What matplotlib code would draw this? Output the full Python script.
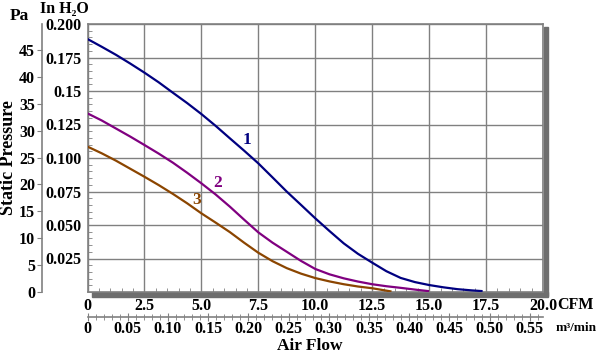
import matplotlib
matplotlib.use("Agg")
import matplotlib.pyplot as plt
from matplotlib.patches import Rectangle
from matplotlib.ticker import MultipleLocator

plt.rcParams['font.family'] = ['Liberation Serif', 'DejaVu Serif']
plt.rcParams['font.weight'] = 'bold'

# fan curves (CFM vs inch H2O)
cfm_1 = [0, 0.625, 1.25, 1.875, 2.5, 3.125, 3.75, 4.375, 5, 5.625, 6.25, 6.875, 7.5,
         8.125, 8.75, 9.375, 10, 10.625, 11.25, 11.875, 12.5, 13.125, 13.75, 14.375,
         15, 15.625, 16.25, 16.875, 17.3]
inh2o_1 = [0.1888, 0.183, 0.177, 0.1705, 0.1637, 0.1565, 0.1487, 0.141, 0.1328, 0.124,
           0.1147, 0.1055, 0.096, 0.0855, 0.0749, 0.065, 0.055, 0.0455, 0.0363, 0.0285,
           0.0219, 0.0155, 0.0105, 0.0074, 0.0052, 0.0035, 0.0021, 0.0012, 0.0007]
cfm_2 = [0, 0.625, 1.25, 1.875, 2.5, 3.125, 3.75, 4.375, 5, 5.625, 6.25, 6.875, 7.5,
         8.125, 8.75, 9.375, 10, 10.625, 11.25, 11.875, 12.5, 13.125, 13.75, 14.375, 14.95]
inh2o_2 = [0.1333, 0.128, 0.122, 0.116, 0.1097, 0.1033, 0.0965, 0.089, 0.0811, 0.0728,
           0.0637, 0.054, 0.0445, 0.0368, 0.030, 0.0232, 0.0172, 0.0132, 0.0102, 0.0078,
           0.0058, 0.0043, 0.0031, 0.0018, 0.0007]
cfm_3 = [0, 0.625, 1.25, 1.875, 2.5, 3.125, 3.75, 4.375, 5, 5.625, 6.25, 6.875, 7.5,
         8.125, 8.75, 9.375, 10, 10.625, 11.25, 11.875, 12.5, 13.3]
inh2o_3 = [0.1085, 0.1035, 0.098, 0.092, 0.086, 0.0798, 0.0732, 0.0662, 0.0587, 0.0518,
           0.0447, 0.0368, 0.0293, 0.023, 0.0178, 0.0137, 0.0104, 0.0079, 0.0058, 0.0041,
           0.0028, 0.0005]
curve_names = ['1', '2', '3']
curve_colors = ['#000080', '#800080', '#8b4500']
label_pos = [(7.0, 0.1134), (5.72, 0.0813), (4.8, 0.0687)]

x_ticks = [0, 2.5, 5, 7.5, 10, 12.5, 15, 17.5, 20]
x_labels = ['0', '2.5', '5.0', '7.5', '10.0', '12.5', '15.0', '17.5', '20.0']
y_ticks = [0.025, 0.05, 0.075, 0.1, 0.125, 0.15, 0.175, 0.2]
y_labels = ['0.025', '0.050', '0.075', '0.100', '0.125', '0.15', '0.175', '0.200']
pa_ticks = [0, 5, 10, 15, 20, 25, 30, 35, 40, 45]
m3_ticks = [0, 0.05, 0.10, 0.15, 0.20, 0.25, 0.30, 0.35, 0.40, 0.45, 0.50, 0.55]
m3_labels = ['0', '0.05', '0.10', '0.15', '0.20', '0.25', '0.30', '0.35', '0.40',
             '0.45', '0.50', '0.55']

W, H = 600, 354
grey = '#808080'
fig = plt.figure(figsize=(6, 3.54), dpi=100)

def fx(px):
    return px / W

def fy(py):
    return (H - py) / H

left, right, top, bottom = 87.5, 543, 24, 292
ax = fig.add_axes([fx(left), fy(bottom), fx(right - left), (bottom - top) / H])

# shadow
fig.add_artist(Rectangle((fx(543.5), fy(296)), fx(4.5), (296 - 27) / H,
                         transform=fig.transFigure, color='#6e6e6e', zorder=0))
fig.add_artist(Rectangle((fx(92), fy(296.5)), fx(456), 4.5 / H,
                         transform=fig.transFigure, color='#6e6e6e', zorder=0))

for xs, ys, c in zip([cfm_1, cfm_2, cfm_3], [inh2o_1, inh2o_2, inh2o_3], curve_colors):
    ax.plot(xs, ys, color=c, lw=1.6, zorder=3)
for name, c, (lx, ly) in zip(curve_names, curve_colors, label_pos):
    ax.text(lx, ly, name, color=c, fontsize=12.5, ha='center', va='center')

ax.set_xlim(0, 20)
ax.set_ylim(0, 0.2)
ax.set_xticks(x_ticks)
ax.set_xticklabels(x_labels, fontsize=11.5)
ax.set_yticks(y_ticks)
ax.set_yticklabels(y_labels, fontsize=11.5)
ax.xaxis.set_minor_locator(MultipleLocator(0.5))
ax.yaxis.set_minor_locator(MultipleLocator(0.005))
ax.tick_params(which='major', length=0, pad=4)
ax.tick_params(which='minor', direction='in', length=3, color=grey)
ax.tick_params(axis='y', which='minor', right=False)
ax.tick_params(axis='x', which='minor', top=False)
ax.grid(True, which='major', color=grey, lw=1)
for s in ax.spines.values():
    s.set_color(grey)
    s.set_linewidth(1.2)
ax.set_facecolor('white')

# Pa axis
pa = fig.add_axes([fx(42), fy(bottom), 0.0001, (bottom - top) / H])
pa.set_ylim(0, 0.2 * 249.089)
pa.set_xticks([])
pa.set_yticks(pa_ticks)
pa.set_yticklabels([str(t) for t in pa_ticks], fontsize=11.5)
pa.tick_params(axis='y', length=3.5, color=grey, pad=1.5)
for k in ['top', 'right', 'bottom']:
    pa.spines[k].set_visible(False)
pa.spines['left'].set_color(grey)
pa.spines['left'].set_linewidth(1.2)
pa.patch.set_visible(False)

# m3/min axis
m3 = fig.add_axes([fx(left), fy(317), fx(right - left), 0.0001])
m3.set_xlim(0, 20 * 0.0283168)
m3.set_yticks([])
m3.set_xticks(m3_ticks)
m3.set_xticklabels(m3_labels, fontsize=11.5)
m3.xaxis.set_minor_locator(MultipleLocator(0.01))
m3.tick_params(axis='x', which='major', direction='inout', length=6, color=grey, pad=0)
m3.tick_params(axis='x', which='minor', direction='inout', length=4, color=grey)
for k in ['top', 'right', 'left']:
    m3.spines[k].set_visible(False)
m3.spines['bottom'].set_color(grey)
m3.spines['bottom'].set_linewidth(1.2)
m3.patch.set_visible(False)

fig.text(fx(19), fy(16), 'Pa', fontsize=12.5, ha='center', va='center')
fig.text(fx(64), fy(9), 'In H₂O', fontsize=11.5, ha='center', va='center')
fig.text(fx(9), fy(158), 'Static Pressure', fontsize=13, rotation=90, ha='center', va='center')
fig.text(fx(310), fy(346), 'Air Flow', fontsize=12.5, ha='center', va='center')
fig.text(fx(557), fy(305), 'CFM', fontsize=11.5, ha='left', va='center')
fig.text(fx(576), fy(328), 'm³/min', fontsize=9.5, ha='center', va='center')

fig.savefig('out.png', dpi=100)
